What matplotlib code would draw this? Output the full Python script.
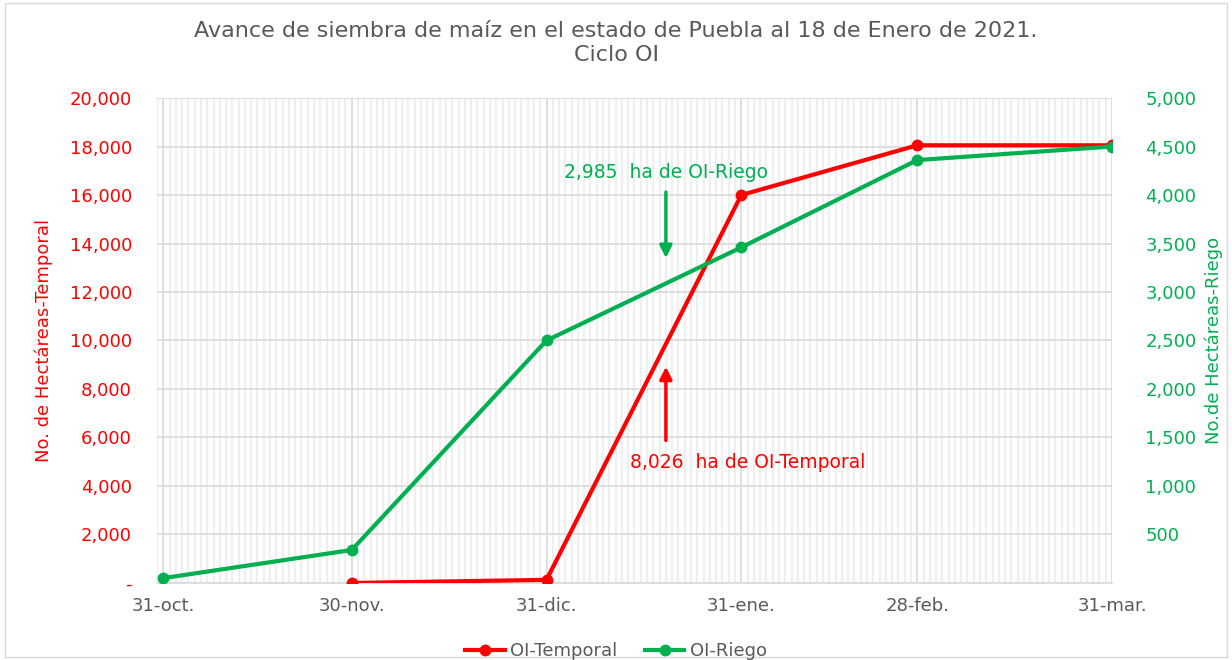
import datetime as dt
import matplotlib
matplotlib.use("Agg")
import matplotlib.pyplot as plt
import matplotlib.dates as mdates
from matplotlib.ticker import FuncFormatter, MultipleLocator

plt.rcParams['font.family'] = ['DejaVu Sans']

fechas = [dt.date(2020, 10, 31), dt.date(2020, 11, 30), dt.date(2020, 12, 31),
          dt.date(2021, 1, 31), dt.date(2021, 2, 28), dt.date(2021, 3, 31)]
etiquetas = ['31-oct.', '30-nov.', '31-dic.', '31-ene.', '28-feb.', '31-mar.']

fechas_temporal = fechas[1:]
temporal = [0, 130, 16000, 18050, 18050]
riego = [50, 340, 2500, 3460, 4360, 4500]

rojo = '#FF0000'
verde = '#00B050'
gris = '#595959'

fig = plt.figure(figsize=(12.32, 6.6), dpi=100)
ax = fig.add_axes([0.1274, 0.1167, 0.7752, 0.7348])
ax2 = ax.twinx()  # encima de ax: la linea verde queda sobre la roja

ax.set_xlim(dt.date(2020, 10, 30), dt.date(2021, 3, 31))
ax.set_ylim(0, 20000)
ax2.set_ylim(0, 5000)

ax.set_xticks(fechas)
ax.set_xticklabels(etiquetas)
ax.xaxis.set_minor_locator(mdates.DayLocator())
ax.yaxis.set_major_locator(MultipleLocator(2000))
ax2.yaxis.set_major_locator(MultipleLocator(500))

ax.grid(which='minor', axis='x', color='#efefef', linewidth=1.6)
ax.grid(which='major', axis='x', color='#d9d9d9', linewidth=1.2)
ax.grid(which='major', axis='y', color='#d9d9d9', linewidth=1.2)
ax.set_axisbelow(True)

ax.yaxis.set_major_formatter(FuncFormatter(lambda v, p: '-' if v == 0 else f'{v:,.0f}'))
ax2.yaxis.set_major_formatter(FuncFormatter(lambda v, p: '' if v == 0 else f'{v:,.0f}'))

for a in (ax, ax2):
    for s in a.spines.values():
        s.set_visible(False)
ax.spines['bottom'].set_visible(True)
ax.spines['bottom'].set_color('#d9d9d9')
ax.spines['bottom'].set_linewidth(1.2)

ax.tick_params(axis='x', which='both', length=0, labelsize=13, labelcolor=gris, pad=10)
ax.tick_params(axis='y', length=0, labelsize=13, labelcolor=rojo, pad=18)
ax2.tick_params(axis='y', length=0, labelsize=13, labelcolor=verde, pad=24)

l1, = ax.plot(fechas_temporal, temporal, color=rojo, lw=3, marker='o', ms=7.5, label='OI-Temporal', zorder=3)
l2, = ax2.plot(fechas, riego, color=verde, lw=3, marker='o', ms=7.5, label='OI-Riego', zorder=3)

ax.set_ylabel('No. de Hectáreas-Temporal', color=rojo, fontsize=13, labelpad=12)
ax2.set_ylabel('No.de Hectáreas-Riego', color=verde, fontsize=13, labelpad=6)

# anotaciones
xa = mdates.date2num(dt.date(2021, 1, 19))
ax2.annotate('', xy=(xa, 3350), xytext=(xa, 4030),
             arrowprops=dict(arrowstyle='-|>', color=verde, lw=2.5, mutation_scale=18,
                             shrinkA=0, shrinkB=0))
ax2.text(xa, 4227, '2,985  ha de OI-Riego', color=verde, fontsize=13.5, ha='center', va='center')
ax2.annotate('', xy=(xa, 2230), xytext=(xa, 1470),
             arrowprops=dict(arrowstyle='-|>', color=rojo, lw=2.5, mutation_scale=18,
                             shrinkA=0, shrinkB=0))
ax2.text(mdates.date2num(dt.date(2021, 2, 1)), 1238, '8,026  ha de OI-Temporal',
         color=rojo, fontsize=13.5, ha='center', va='center')

fig.suptitle('Avance de siembra de maíz en el estado de Puebla al 18 de Enero de 2021.\nCiclo OI',
             color=gris, fontsize=16, y=0.968, linespacing=1.25)

fig.legend(handles=[l1, l2], loc='lower center', bbox_to_anchor=(0.5, -0.025), ncol=2,
           frameon=False, fontsize=13, labelcolor=gris, handlelength=2.2, columnspacing=1.5,
           handletextpad=0.3)

fig.patches.append(plt.Rectangle((0.004, 0.004), 0.992, 0.992, transform=fig.transFigure,
                                 fill=False, edgecolor='#d9d9d9', lw=1))

fig.savefig('out.png', dpi=100)
